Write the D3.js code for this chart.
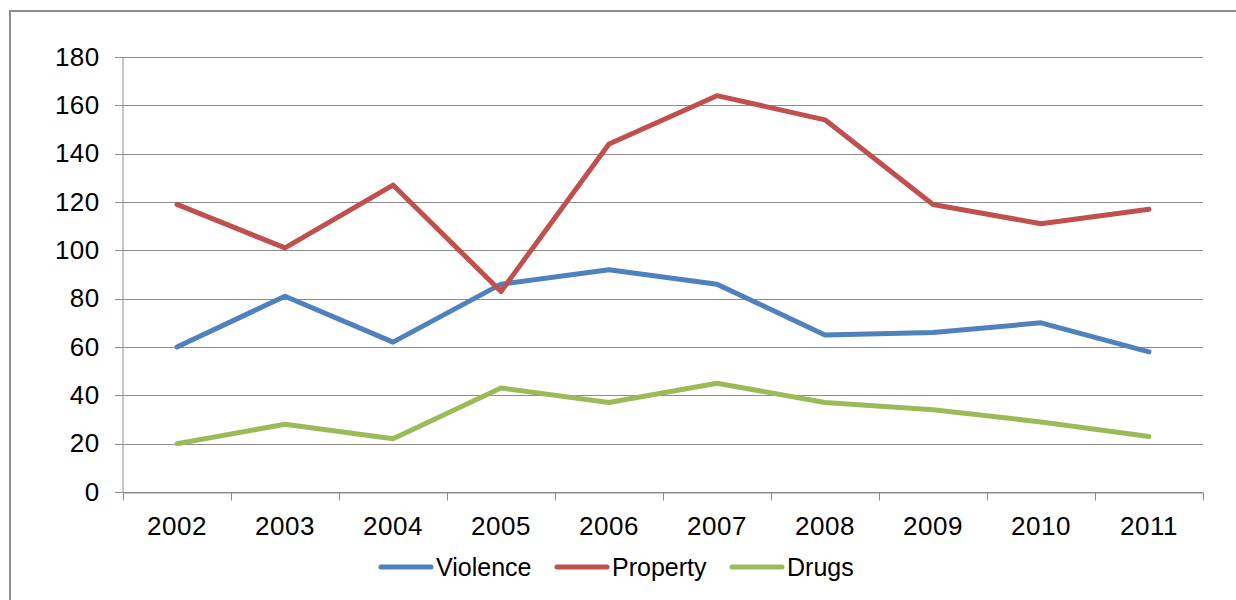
<!DOCTYPE html>
<html><head><meta charset="utf-8">
<script src="https://cdn.jsdelivr.net/npm/d3@7"></script>
<style>body{margin:0;background:#fff;}svg{display:block;font-family:"Liberation Sans",Arial,sans-serif;}</style>
</head><body>
<svg id="c" width="1236" height="600"></svg>
<script>
const years = ["2002","2003","2004","2005","2006","2007","2008","2009","2010","2011"];
const violence = [60,81,62,86,92,86,65,66,70,58];
const property = [119,101,127,83,144,164,154,119,111,117];
const drugs = [20,28,22,43,37,45,37,34,29,23];
const yTicks = [0,20,40,60,80,100,120,140,160,180];
const seriesNames = ["Violence","Property","Drugs"];
const seriesColors = ["#4F81BD","#C0504D","#9BBB59"];

(function(){
const svg = d3.select("#c");
// outer frame
svg.append("rect").attr("x",10).attr("y",11).attr("width",1240).attr("height",600)
  .attr("fill","none").attr("stroke","#8c8c8c").attr("stroke-width",2);

const pL=123, pR=1203, pT=57, pB=492;
const x = d3.scaleBand().domain(years).range([pL,pR]);
const y = d3.scaleLinear().domain([0,180]).range([pB,pT]);

// gridlines
svg.append("g").selectAll("line").data(yTicks).join("line")
  .attr("x1",pL-8).attr("x2",pR).attr("y1",d=>Math.round(y(d))+0.5).attr("y2",d=>Math.round(y(d))+0.5)
  .attr("stroke","#8c8c8c").attr("stroke-width",1);

// y axis
const ya = svg.append("g").attr("transform",`translate(${pL-0.5},0)`)
  .call(d3.axisLeft(y).tickValues(yTicks).tickSize(0).tickPadding(23));
ya.select(".domain").attr("stroke","#8c8c8c");
ya.selectAll("text").attr("font-size",26).attr("letter-spacing",0.4).attr("fill","#000").attr("font-family","Liberation Sans, Arial, sans-serif");

// x axis
const xa = svg.append("g").attr("transform",`translate(0,${pB+0.5})`)
  .call(d3.axisBottom(x).tickSize(0).tickPadding(24));
xa.select(".domain").attr("stroke","#8c8c8c");
xa.selectAll("text").attr("font-size",26).attr("letter-spacing",0.5).attr("fill","#000").attr("font-family","Liberation Sans, Arial, sans-serif");
const bounds = years.map(d=>x(d)).concat([pR]);
xa.append("g").selectAll("line").data(bounds).join("line")
  .attr("x1",d=>Math.round(d)+0.5).attr("x2",d=>Math.round(d)+0.5).attr("y1",0).attr("y2",8)
  .attr("stroke","#8c8c8c");

const data = [violence, property, drugs];
const line = d3.line().x((d,i)=>x(years[i])+x.bandwidth()/2).y(d=>y(d));
svg.append("g").selectAll("path").data(data).join("path")
  .attr("d",line).attr("fill","none")
  .attr("stroke",(d,i)=>seriesColors[i]).attr("stroke-width",5)
  .attr("stroke-linejoin","round").attr("stroke-linecap","round");

// legend
const legX = [381, 557, 732];
const lg = svg.append("g").selectAll("g").data(seriesNames).join("g")
  .attr("transform",(d,i)=>`translate(${legX[i]},567)`);
lg.append("line").attr("x1",0).attr("x2",50).attr("y1",0).attr("y2",0)
  .attr("stroke",(d,i)=>seriesColors[i]).attr("stroke-width",5).attr("stroke-linecap","round");
lg.append("text").attr("x",55).attr("y",9).attr("font-size",25).attr("fill","#000").text(d=>d);
})();
</script>
</body></html>
